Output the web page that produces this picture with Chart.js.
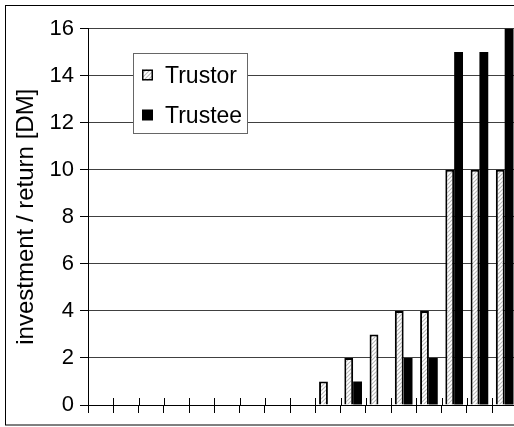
<!DOCTYPE html>
<html>
<head>
<meta charset="utf-8">
<script src="https://cdn.jsdelivr.net/npm/chart.js@4/dist/chart.umd.min.js"></script>
<style>
  html, body { margin: 0; padding: 0; background: #fff; }
  #wrap { width: 514px; height: 427px; overflow: hidden; position: relative; }
  #wrap canvas { display: block; }
</style>
</head>
<body>
<div id="wrap"><canvas id="c" width="530" height="427"></canvas></div>
<script>
// Rounds of the game (not labelled on the axis)
const rounds = ['1', '2', '3', '4', '5', '6', '7', '8', '9', '10', '11', '12', '13', '14', '15', '16', '17'];
// Amount sent by the trustor and returned by the trustee, in DM
const trustorValues = [0, 0, 0, 0, 0, 0, 0, 0, 0, 1, 2, 3, 4, 4, 10, 10, 10];
const trusteeValues = [0, 0, 0, 0, 0, 0, 0, 0, 0, 0, 1, 0, 2, 2, 15, 15, 16];
const seriesNames = ['Trustor', 'Trustee'];
const yMin = 0, yMax = 16, yStep = 2;
const yTitle = 'investment / return [DM]';

const FONT = '"Liberation Sans", Arial, sans-serif';
const canvas = document.getElementById('c');
const ctx0 = canvas.getContext('2d');

// light grey diagonal hatching on white
function makeHatch() {
  const s = 4;
  const tile = document.createElement('canvas');
  tile.width = s; tile.height = s;
  const g = tile.getContext('2d');
  g.fillStyle = '#ffffff';
  g.fillRect(0, 0, s, s);
  g.strokeStyle = '#b8b8b8';
  g.lineWidth = 1.1;
  g.beginPath();
  g.moveTo(-1, s + 1); g.lineTo(s + 1, -1);
  g.moveTo(-1, 1); g.lineTo(1, -1);
  g.moveTo(s - 1, s + 1); g.lineTo(s + 1, s - 1);
  g.stroke();
  return ctx0.createPattern(tile, 'repeat');
}
const hatch = makeHatch();

// cross-shaped category ticks on the x axis, plus the frame and the inset legend
const decorations = {
  id: 'decorations',
  beforeDraw(chart) {
    const ctx = chart.ctx;
    ctx.save();
    ctx.fillStyle = '#fff';
    ctx.fillRect(0, 0, chart.width, chart.height);
    ctx.restore();
  },
  afterDatasetsDraw(chart) {
    const ctx = chart.ctx;
    const xs = chart.scales.x;
    const area = chart.chartArea;
    const step = xs.getPixelForValue(1) - xs.getPixelForValue(0);
    ctx.save();
    ctx.strokeStyle = '#000';
    ctx.lineWidth = 1;
    ctx.beginPath();
    for (let i = 0; i <= rounds.length; i++) {
      const x = Math.round(xs.getPixelForValue(i) - step / 2) + 0.5;
      ctx.moveTo(x, area.bottom - 7);
      ctx.lineTo(x, area.bottom);
    }
    ctx.stroke();
    ctx.restore();
  },
  afterDraw(chart) {
    const ctx = chart.ctx;
    ctx.save();
    // outer frame
    ctx.strokeStyle = '#000';
    ctx.lineWidth = 1;
    ctx.strokeRect(5.5, 5.5, chart.width - 11, 419.5);

    // legend box
    const bx = 133.5, by = 53.5, bw = 114, bh = 80;
    ctx.fillStyle = '#fff';
    ctx.fillRect(bx, by, bw, bh);
    ctx.strokeStyle = '#666';
    ctx.strokeRect(bx, by, bw, bh);

    const rows = [75, 115];
    chart.data.datasets.forEach((ds, i) => {
      const cy = rows[i];
      const sx = 142, sz = 11;
      ctx.fillStyle = ds.backgroundColor;
      ctx.fillRect(sx, cy - sz / 2, sz, sz);
      if (ds.borderWidth) {
        ctx.strokeStyle = ds.borderColor;
        ctx.lineWidth = 1.5;
        ctx.strokeRect(sx + 0.75, cy - sz / 2 + 0.75, sz - 1.5, sz - 1.5);
      }
      ctx.fillStyle = '#000';
      ctx.font = '23px ' + FONT;
      ctx.textBaseline = 'alphabetic';
      ctx.textAlign = 'left';
      ctx.fillText(ds.label, 165, cy + 8);
    });
    ctx.restore();
  }
};

new Chart(canvas, {
  type: 'bar',
  data: {
    labels: rounds,
    datasets: [
      {
        label: seriesNames[0],
        data: trustorValues,
        backgroundColor: hatch,
        borderColor: '#000',
        borderWidth: 2,
        borderSkipped: 'start'
      },
      {
        label: seriesNames[1],
        data: trusteeValues,
        backgroundColor: '#000',
        borderWidth: 0
      }
    ]
  },
  options: {
    responsive: false,
    animation: false,
    devicePixelRatio: 1,
    layout: { padding: { left: 0, top: 28.5, right: 12.7, bottom: 0 } },
    datasets: { bar: { barPercentage: 1, categoryPercentage: 0.7 } },
    plugins: {
      legend: { display: false },
      tooltip: { enabled: false }
    },
    scales: {
      x: {
        offset: true,
        grid: {
          display: true,
          offset: true,
          drawOnChartArea: false,
          drawTicks: true,
          tickLength: 8,
          color: '#000',
          tickColor: '#000'
        },
        border: { display: true, color: '#000', width: 1 },
        ticks: { display: false },
        afterFit(scale) { scale.height = 22; }
      },
      y: {
        min: yMin,
        max: yMax,
        ticks: {
          stepSize: yStep,
          color: '#000',
          padding: 6,
          font: { family: FONT, size: 22 }
        },
        grid: {
          color: '#404040',
          tickColor: '#000',
          tickLength: 8,
          lineWidth: 1
        },
        border: { display: true, color: '#000', width: 1 },
        title: {
          display: true,
          text: yTitle,
          color: '#000',
          font: { family: FONT, size: 24 },
          padding: { top: 12, bottom: 0 }
        },
        afterFit(scale) { scale.width = 88; }
      }
    }
  },
  plugins: [decorations]
});
</script>
</body>
</html>
